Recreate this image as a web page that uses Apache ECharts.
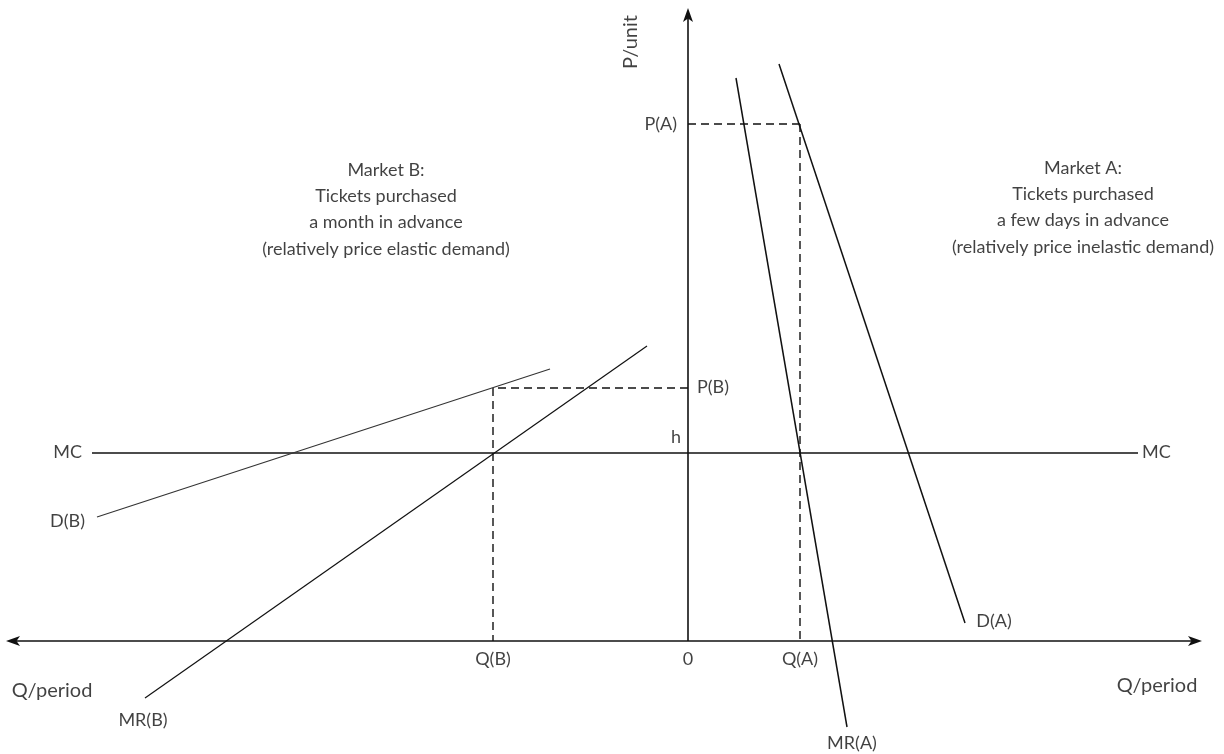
<!DOCTYPE html>
<html>
<head>
<meta charset="utf-8">
<script src="https://cdn.jsdelivr.net/npm/echarts@6/dist/echarts.min.js"></script>
<style>
  html, body { margin: 0; padding: 0; background: #fff; }
  #chart { width: 1224px; height: 754px; }
</style>
</head>
<body>
<div id="chart"></div>
<script>
// Quantity runs left (market B) and right (market A) from the origin; price runs up.
const demandA = [[91, 577], [277, 18]];
const marginalRevenueA = [[48, 563], [159, -86]];
const demandB = [[-591, 124], [-138, 272]];
const marginalRevenueB = [[-543, -57], [-41, 295]];
const marginalCost = 188;
const mcExtent = [-596, 450];
const priceA = 517, quantityA = 112;
const priceB = 253, quantityB = -195;
const qAxisExtent = [-675, 507];
const pAxisTop = 626;

const marketBText = ['Market B:', 'Tickets purchased', 'a month in advance', '(relatively price elastic demand)'];
const marketAText = ['Market A:', 'Tickets purchased', 'a few days in advance', '(relatively price inelastic demand)'];

const FONT = 'Lato';
const INK = '#111111';
const arrowPath = 'path://M0,0 L6,16 L0,12 L-6,16 Z';

function segment(name, pts, width, color) {
  return {
    name, type: 'line', data: pts, symbol: 'none', silent: true,
    lineStyle: { color: color || INK, width: width || 1.4 }, z: 3
  };
}
function dashed(name, pts) {
  return {
    name, type: 'line', data: pts, symbol: 'none', silent: true,
    lineStyle: { color: INK, width: 1.4, type: [8, 5] }, z: 2
  };
}
function label(text, x, y, pos, size, extra) {
  return {
    value: [x, y],
    label: Object.assign({
      show: true, formatter: text, position: pos, distance: 0,
      fontSize: size || 18, color: INK, fontFamily: FONT
    }, extra || {})
  };
}

const labels = [
  label('P(A)', -11, priceA, 'left'),
  label('P(B)', 9, priceB + 1, 'right'),
  label('h', -7, 204, 'left'),
  label('MC', mcExtent[0] - 10, marginalCost + 1, 'left'),
  label('MC', mcExtent[1] + 4, marginalCost + 1, 'right'),
  label('D(B)', -603, 120, 'left'),
  label('MR(B)', -545, -79, 'inside'),
  label('MR(A)', 164, -102, 'inside'),
  label('D(A)', 306, 20, 'inside'),
  label('Q(B)', quantityB, -18, 'inside'),
  label('0', 0, -18, 'inside'),
  label('Q(A)', quantityA, -18, 'inside'),
  label('Q/period', -636, -50, 'inside', 20),
  label('Q/period', 469, -45, 'inside', 20),
  label('P/unit', -57, 599, 'inside', 20, { rotate: 90 })
];

// Two captions, one per market, each a stack of centred lines
const captions = [];
[[marketBText, -302, 471], [marketAText, 395, 473]].forEach(([lines, cx, top]) => {
  lines.forEach((t, i) => captions.push(label(t, cx, top - i * 26.3, 'inside', 18)));
});

const option = {
  animation: false,
  backgroundColor: '#ffffff',
  textStyle: { fontFamily: FONT },
  grid: { left: 0, top: 0, width: 1224, height: 754 },
  xAxis: { type: 'value', min: -688, max: 536, show: false },
  yAxis: { type: 'value', min: -113, max: 641, show: false },
  series: [
    {
      name: 'axes', type: 'line', data: [], silent: true,
      markLine: {
        silent: true, animation: false,
        symbol: ['none', arrowPath], symbolSize: [10, 14],
        label: { show: false },
        lineStyle: { color: INK, width: 1.6, type: 'solid' },
        data: [
          [{ coord: [0, 0] }, { coord: [0, pAxisTop] }],
          [{ coord: [0, 0] }, { coord: [qAxisExtent[1], 0] }],
          [{ coord: [0, 0] }, { coord: [qAxisExtent[0], 0] }]
        ]
      }
    },
    segment('MC', [[mcExtent[0], marginalCost], [mcExtent[1], marginalCost]], 1.4),
    segment('D(A)', demandA, 1.5),
    segment('MR(A)', marginalRevenueA, 1.5),
    segment('D(B)', demandB, 1.1, '#333'),
    segment('MR(B)', marginalRevenueB, 1.2),
    dashed('P(A) guide', [[0, priceA], [quantityA, priceA]]),
    dashed('Q(A) guide', [[quantityA, priceA], [quantityA, 0]]),
    dashed('P(B) guide', [[0, priceB], [quantityB, priceB]]),
    dashed('Q(B) guide', [[quantityB, priceB], [quantityB, 0]]),
    {
      name: 'labels', type: 'scatter', data: labels.concat(captions),
      symbolSize: 0, silent: true, z: 5
    }
  ]
};

const chart = echarts.init(document.getElementById('chart'), null, { renderer: 'canvas' });
chart.setOption(option);
</script>
</body>
</html>
